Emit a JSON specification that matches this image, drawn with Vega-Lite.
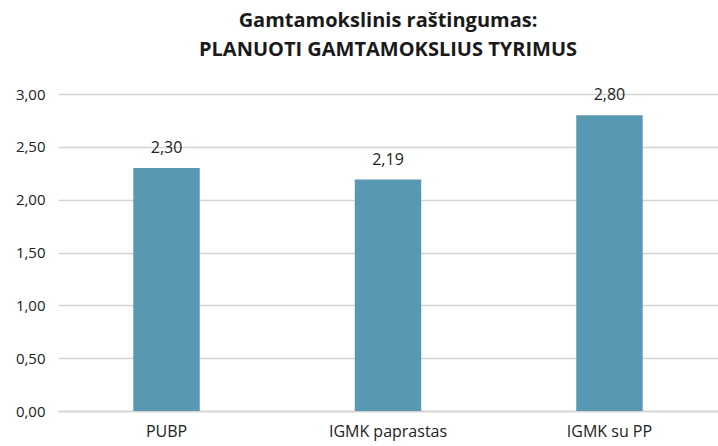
{
  "$schema": "https://vega.github.io/schema/vega-lite/v6.json",
  "autosize": {"type": "none"},
  "padding": {"left": 58, "top": 94, "right": 0, "bottom": 35},
  "width": 660,
  "height": 317,
  "background": "white",
  "config": {
    "locale": {"number": {"decimal": ",", "thousands": " ", "grouping": [3], "currency": ["", " €"]}},
    "view": {"stroke": null},
    "font": "Open Sans"
  },
  "title": {
    "text": ["Gamtamokslinis raštingumas:", "PLANUOTI GAMTAMOKSLIUS TYRIMUS"],
    "font": "Open Sans",
    "fontSize": 20,
    "fontWeight": "bold",
    "color": "#1a1a1a",
    "anchor": "middle",
    "lineHeight": 29,
    "offset": 27
  },
  "data": {
    "values": [
      {"kategorija": "PUBP", "reiksme": 2.30},
      {"kategorija": "IGMK paprastas", "reiksme": 2.19},
      {"kategorija": "IGMK su PP", "reiksme": 2.80}
    ]
  },
  "encoding": {
    "x": {
      "field": "kategorija",
      "type": "nominal",
      "sort": null,
      "scale": {"paddingInner": 0.7, "paddingOuter": 0.34},
      "axis": {
        "title": null,
        "labelAngle": 0,
        "labelFontSize": 16,
        "labelColor": "#222222",
        "labelPadding": 12,
        "ticks": false,
        "domainColor": "#d4d4d4",
        "domainWidth": 1.5
      }
    },
    "y": {
      "field": "reiksme",
      "type": "quantitative",
      "scale": {"domain": [0, 3]},
      "axis": {
        "title": null,
        "values": [0, 0.5, 1, 1.5, 2, 2.5, 3],
        "format": ".2f",
        "labelFontSize": 15,
        "labelColor": "#222222",
        "labelPadding": 13,
        "ticks": false,
        "domain": false,
        "gridColor": "#d4d4d4",
        "gridWidth": 1.5
      }
    }
  },
  "layer": [
    {"mark": {"type": "bar", "color": "#5799b2"}},
    {
      "mark": {"type": "text", "dy": -20, "fontSize": 16, "color": "#222222", "baseline": "middle"},
      "encoding": {"text": {"field": "reiksme", "type": "quantitative", "format": ".2f"}}
    }
  ]
}
